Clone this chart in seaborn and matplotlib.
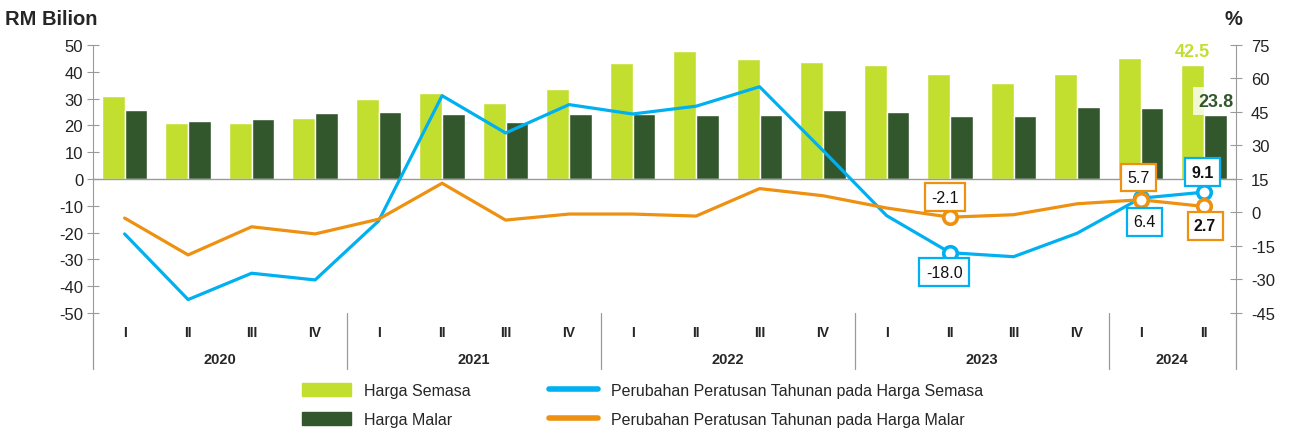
"""Harga Semasa vs Harga Malar, quarterly, with annual % change lines."""

import matplotlib.pyplot as plt
import matplotlib.transforms as mtransforms
from matplotlib.lines import Line2D
from matplotlib.patches import Patch
import pandas as pd
import seaborn as sns

sns.set_style("white")
plt.rcParams["font.family"] = ["Liberation Sans", "DejaVu Sans"]
plt.rcParams["axes.unicode_minus"] = False

# --- data ---------------------------------------------------------------
years = ["2020", "2021", "2022", "2023", "2024"]
quarters_per_year = [4, 4, 4, 4, 2]
roman = ["I", "II", "III", "IV"]

harga_semasa = [31.0, 21.0, 21.0, 22.8, 29.9, 32.2, 28.5, 33.7, 43.3,
                47.8, 44.9, 43.5, 42.4, 39.1, 35.8, 39.2, 45.0, 42.5]
harga_malar = [25.9, 21.6, 22.4, 24.5, 25.0, 24.4, 21.4, 24.1, 24.3,
               24.0, 23.8, 25.9, 25.1, 23.5, 23.5, 26.9, 26.6, 23.8]
pct_semasa = [-9.6, -39.0, -27.2, -30.2, -3.8, 52.3, 35.6, 48.3, 44.1,
              47.6, 56.3, 27.7, -1.4, -18.0, -19.8, -9.3, 6.4, 9.1]
pct_malar = [-2.5, -19.0, -6.4, -9.6, -3.0, 13.1, -3.4, -0.7, -0.7,
             -1.6, 10.7, 7.5, 2.0, -2.1, -1.0, 3.9, 5.7, 2.7]

quarter_labels = [roman[i] for n in quarters_per_year for i in range(n)]
quarter_ids = [f"{y}-{roman[i]}" for y, n in zip(years, quarters_per_year) for i in range(n)]
n_q = len(quarter_ids)

LIGHT = "#C2DF30"
DARK = "#33572D"
BLUE = "#00B0F0"
ORANGE = "#EE9010"
GREY = "#9A9A9A"

bars = pd.DataFrame({
    "quarter": quarter_ids * 2,
    "value": harga_semasa + harga_malar,
    "series": ["Harga Semasa"] * n_q + ["Harga Malar"] * n_q,
})
lines = pd.DataFrame({
    "pos": list(range(n_q)) * 2,
    "pct": pct_semasa + pct_malar,
    "series": ["semasa"] * n_q + ["malar"] * n_q,
})

# --- figure -------------------------------------------------------------
fig = plt.figure(figsize=(12.9, 4.31), dpi=100)
ax = fig.add_axes([0.072, 0.2715, 0.886, 0.6218])
ax2 = ax.twinx()

sns.barplot(data=bars, x="quarter", y="value", hue="series", order=quarter_ids,
            palette=[LIGHT, DARK], saturation=1, width=0.715, legend=False, ax=ax)
ax.axhline(0, color=GREY, lw=1, zorder=1)

sns.lineplot(data=lines, x="pos", y="pct", hue="series",
             palette={"semasa": BLUE, "malar": ORANGE}, lw=2.3,
             legend=False, ax=ax2)

# highlighted points
hl = [13, 16, 17]
for vals, col in [(pct_semasa, BLUE), (pct_malar, ORANGE)]:
    sns.scatterplot(x=hl, y=[vals[i] for i in hl], color="white", edgecolor=col,
                    linewidth=2.6, s=95, zorder=5, ax=ax2)

# boxed value labels: (index, series, colour, offset in points, bold)
boxes = [
    (13, pct_malar, ORANGE, (-3.6, 14.4), False),
    (13, pct_semasa, BLUE, (-4.3, -14), False),
    (16, pct_malar, ORANGE, (-1.4, 16), False),
    (16, pct_semasa, BLUE, (3, -17), False),
    (17, pct_semasa, BLUE, (-1, 14.5), True),
    (17, pct_malar, ORANGE, (0.7, -14), True),
]
for i, vals, col, off, bold in boxes:
    ax2.annotate(f"{vals[i]:.1f}", (i, vals[i]), xytext=off, textcoords="offset points",
                 ha="center", va="center", fontsize=11.5,
                 fontweight="bold" if bold else "normal", color="#111111", zorder=6,
                 bbox=dict(boxstyle="square,pad=0.4", fc="white", ec=col, lw=1.6))

# bar labels for latest quarter
ax.annotate(f"{harga_semasa[-1]:.1f}", (n_q - 1 - 0.18, harga_semasa[-1]),
            xytext=(0, 10), textcoords="offset points", ha="center", va="center",
            fontsize=13, fontweight="bold", color=LIGHT)
ax.annotate(f"{harga_malar[-1]:.1f}", (n_q - 1 + 0.18, harga_malar[-1]),
            xytext=(0, 10), textcoords="offset points", ha="center", va="center",
            fontsize=13, fontweight="bold", color=DARK, zorder=7,
            bbox=dict(boxstyle="square,pad=0.3", fc="white", ec="none", alpha=0.8))

# --- axes styling -------------------------------------------------------
ax.set_xlim(-0.5, n_q - 0.5)
ax.set_ylim(-50, 50)
ax.set_yticks(range(-50, 51, 10))
ax2.set_ylim(-45, 75)
ax2.set_yticks(range(-45, 76, 15))
ax.set_xlabel("")
ax.set_ylabel("")
ax2.set_xlabel("")
ax2.set_ylabel("")

ax.set_xticks(range(n_q))
ax.set_xticklabels(quarter_labels, fontsize=10, fontweight="bold")
ax.tick_params(axis="x", length=0, pad=9)
ax.tick_params(axis="y", direction="inout", length=8, color=GREY, labelsize=12,
               pad=3, labelcolor="#222222")
ax2.tick_params(axis="y", direction="inout", length=8, color=GREY, labelsize=12,
                pad=7, labelcolor="#222222")

for a in (ax, ax2):
    for s in ("top", "bottom"):
        a.spines[s].set_visible(False)
ax.spines["right"].set_visible(False)
ax2.spines["left"].set_visible(False)
ax.spines["left"].set_color(GREY)
ax2.spines["right"].set_color(GREY)

# year groups below the axis
trans = mtransforms.blended_transform_factory(ax.transData, ax.transAxes)
start = 0
for y, n in zip(years, quarters_per_year):
    ax.text(start + (n - 1) / 2, -0.17, y, transform=trans, ha="center", va="center",
            fontsize=10.5, fontweight="bold")
    start += n
sep = [-0.5]
for n in quarters_per_year:
    sep.append(sep[-1] + n)
for x in sep:
    ax.plot([x, x], [0, -0.21], transform=trans, color=GREY, lw=0.9, clip_on=False)

fig.text(0.004, 0.955, "RM Bilion", fontsize=14.5, fontweight="bold", va="center")
fig.text(0.949, 0.955, "%", fontsize=14.5, fontweight="bold", va="center")

handles = [
    Patch(color=LIGHT, label="Harga Semasa"),
    Patch(color=DARK, label="Harga Malar"),
    Line2D([], [], color=BLUE, lw=4, label="Perubahan Peratusan Tahunan pada Harga Semasa"),
    Line2D([], [], color=ORANGE, lw=4, label="Perubahan Peratusan Tahunan pada Harga Malar"),
]
fig.legend(handles=handles, ncol=2, loc="center", bbox_to_anchor=(0.498, 0.058),
           frameon=False, fontsize=11.5, handlelength=3.1, handleheight=0.9,
           columnspacing=4.9, labelspacing=0.85, handletextpad=0.8)

fig.savefig("out.png", dpi=100)
plt.close(fig)
